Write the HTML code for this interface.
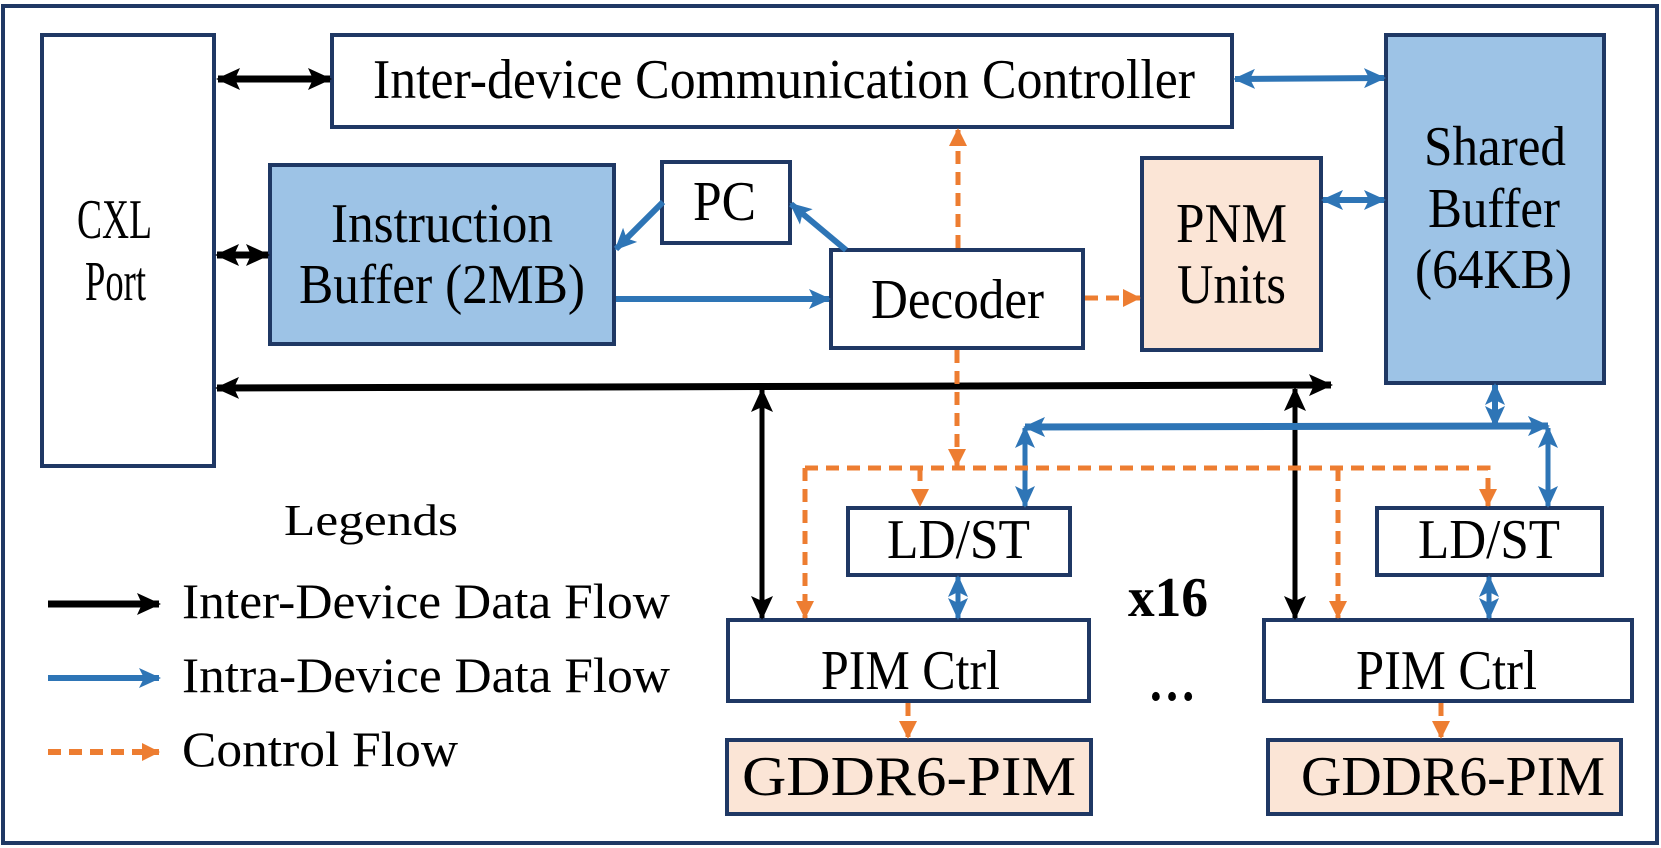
<!DOCTYPE html>
<html><head><meta charset="utf-8"><style>
html,body{margin:0;padding:0;background:#fff}
svg{display:block}
text{font-family:"Liberation Serif","Times New Roman",serif;font-size:56px;fill:#000}
</style></head><body>
<svg width="1661" height="848" viewBox="0 0 1661 848" xmlns="http://www.w3.org/2000/svg">
<defs>
<marker id="kb" markerUnits="userSpaceOnUse" markerWidth="24" markerHeight="22" refX="22" refY="11" orient="auto-start-reverse"><path d="M0,0 L24,11 L0,22 L5,11 Z" fill="#000"/></marker>
<marker id="bb" markerUnits="userSpaceOnUse" markerWidth="22" markerHeight="20" refX="20" refY="10" orient="auto-start-reverse"><path d="M0,0 L22,10 L0,20 L5,10 Z" fill="#2e75b6"/></marker>
<marker id="ob" markerUnits="userSpaceOnUse" markerWidth="18" markerHeight="18" refX="17" refY="9" orient="auto"><path d="M0,0 L18,9 L0,18 Z" fill="#ed7d31"/></marker>
</defs>
<rect x="3" y="6" width="1654" height="837" fill="#fff" stroke="#1f3864" stroke-width="4"/>
<g stroke="#1f3864" stroke-width="4">
<rect x="42" y="35" width="172" height="431" fill="#fff"/>
<rect x="332" y="35" width="900" height="92" fill="#fff"/>
<rect x="1386" y="35" width="218" height="348" fill="#9dc3e6"/>
<rect x="270" y="165" width="344" height="179" fill="#9dc3e6"/>
<rect x="662" y="162" width="128" height="81" fill="#fff"/>
<rect x="831" y="250" width="252" height="98" fill="#fff"/>
<rect x="1142" y="158" width="179" height="192" fill="#fbe5d6"/>
<rect x="848" y="508" width="222" height="67" fill="#fff"/>
<rect x="1377" y="508" width="225" height="67" fill="#fff"/>
<rect x="728" y="620" width="361" height="81" fill="#fff"/>
<rect x="1264" y="620" width="368" height="81" fill="#fff"/>
<rect x="727" y="740" width="364" height="74" fill="#fbe5d6"/>
<rect x="1268" y="740" width="353" height="74" fill="#fbe5d6"/>
</g>
<g stroke="#000" stroke-width="7" fill="none">
<line x1="218" y1="79" x2="330" y2="79" marker-start="url(#kb)" marker-end="url(#kb)"/>
<line x1="217" y1="255" x2="268" y2="255" marker-start="url(#kb)" marker-end="url(#kb)"/>
<line x1="217" y1="388" x2="1331" y2="385" marker-start="url(#kb)" marker-end="url(#kb)"/>
<line x1="762" y1="390" x2="762" y2="618" stroke-width="5" marker-start="url(#kb)" marker-end="url(#kb)"/>
<line x1="1295" y1="389" x2="1295" y2="618" stroke-width="5" marker-start="url(#kb)" marker-end="url(#kb)"/>
<line x1="48" y1="604" x2="159" y2="604" marker-end="url(#kb)"/>
</g>
<g stroke="#2e75b6" stroke-width="6" fill="none">
<line x1="1235" y1="79" x2="1384" y2="78" marker-start="url(#bb)" marker-end="url(#bb)"/>
<line x1="1323" y1="200" x2="1384" y2="200" marker-start="url(#bb)" marker-end="url(#bb)"/>
<line x1="663" y1="202" x2="616" y2="249" marker-end="url(#bb)"/>
<line x1="846" y1="250" x2="791" y2="204" marker-end="url(#bb)"/>
<line x1="616" y1="299" x2="829" y2="299" marker-end="url(#bb)"/>
<line x1="1495" y1="385" x2="1495" y2="426" marker-start="url(#bb)" marker-end="url(#bb)"/>
<line x1="1025" y1="427" x2="1548" y2="426" stroke-width="7" marker-start="url(#bb)" marker-end="url(#bb)"/>
<line x1="1025" y1="428" x2="1025" y2="506" stroke-width="5" marker-start="url(#bb)" marker-end="url(#bb)"/>
<line x1="1548" y1="428" x2="1548" y2="506" stroke-width="5" marker-start="url(#bb)" marker-end="url(#bb)"/>
<line x1="958" y1="577" x2="958" y2="618" stroke-width="5" marker-start="url(#bb)" marker-end="url(#bb)"/>
<line x1="1489" y1="577" x2="1489" y2="618" stroke-width="5" marker-start="url(#bb)" marker-end="url(#bb)"/>
<line x1="48" y1="678" x2="159" y2="678" marker-end="url(#bb)"/>
</g>
<g stroke="#ed7d31" stroke-width="5" fill="none" stroke-dasharray="13,8">
<line x1="958" y1="248" x2="958" y2="129" marker-end="url(#ob)"/>
<line x1="1085" y1="298" x2="1140" y2="298" marker-end="url(#ob)"/>
<line x1="957" y1="350" x2="957" y2="466" marker-end="url(#ob)"/>
<polyline points="805,468 1488,468 1488,506" marker-end="url(#ob)"/>
<line x1="805" y1="468" x2="805" y2="618" marker-end="url(#ob)"/>
<line x1="920" y1="468" x2="920" y2="506" marker-end="url(#ob)"/>
<line x1="1338" y1="468" x2="1338" y2="618" marker-end="url(#ob)"/>
<line x1="908" y1="703" x2="908" y2="738" marker-end="url(#ob)"/>
<line x1="1441" y1="703" x2="1441" y2="738" marker-end="url(#ob)"/>
<line x1="48" y1="752" x2="159" y2="752" stroke-width="6" marker-end="url(#ob)"/>
</g>
<g>
<text x="373" y="98" textLength="822" lengthAdjust="spacingAndGlyphs">Inter-device Communication Controller</text>
<text x="77" y="238" textLength="75" lengthAdjust="spacingAndGlyphs">CXL</text>
<text x="85" y="300" textLength="61" lengthAdjust="spacingAndGlyphs">Port</text>
<text x="331" y="242" textLength="222" lengthAdjust="spacingAndGlyphs">Instruction</text>
<text x="299" y="303" textLength="286" lengthAdjust="spacingAndGlyphs">Buffer (2MB)</text>
<text x="693" y="220" textLength="63" lengthAdjust="spacingAndGlyphs">PC</text>
<text x="871" y="318" textLength="173" lengthAdjust="spacingAndGlyphs">Decoder</text>
<text x="1176" y="242" textLength="111" lengthAdjust="spacingAndGlyphs">PNM</text>
<text x="1177" y="303" textLength="109" lengthAdjust="spacingAndGlyphs">Units</text>
<text x="1424" y="165" textLength="142" lengthAdjust="spacingAndGlyphs">Shared</text>
<text x="1428" y="227" textLength="132" lengthAdjust="spacingAndGlyphs">Buffer</text>
<text x="1415" y="288" textLength="157" lengthAdjust="spacingAndGlyphs">(64KB)</text>
<text x="887" y="558" textLength="143" lengthAdjust="spacingAndGlyphs">LD/ST</text>
<text x="1418" y="558" textLength="142" lengthAdjust="spacingAndGlyphs">LD/ST</text>
<text x="821" y="689" textLength="179" lengthAdjust="spacingAndGlyphs">PIM Ctrl</text>
<text x="1356" y="689" textLength="181" lengthAdjust="spacingAndGlyphs">PIM Ctrl</text>
<text x="742" y="795" textLength="334" lengthAdjust="spacingAndGlyphs">GDDR6-PIM</text>
<text x="1301" y="795" textLength="304" lengthAdjust="spacingAndGlyphs">GDDR6-PIM</text>
<text x="1128" y="616" textLength="80" lengthAdjust="spacingAndGlyphs" style="font-weight:bold">x16</text>
<text x="1148" y="700" textLength="48" lengthAdjust="spacingAndGlyphs" style="font-weight:bold">…</text>
<text x="284" y="535" textLength="174" lengthAdjust="spacingAndGlyphs" style="font-size:44px">Legends</text>
<text x="182" y="618" textLength="488" lengthAdjust="spacingAndGlyphs" style="font-size:50px">Inter-Device Data Flow</text>
<text x="182" y="692" textLength="488" lengthAdjust="spacingAndGlyphs" style="font-size:50px">Intra-Device Data Flow</text>
<text x="182" y="766" textLength="276" lengthAdjust="spacingAndGlyphs" style="font-size:50px">Control Flow</text>
</g>
</svg>
</body></html>
